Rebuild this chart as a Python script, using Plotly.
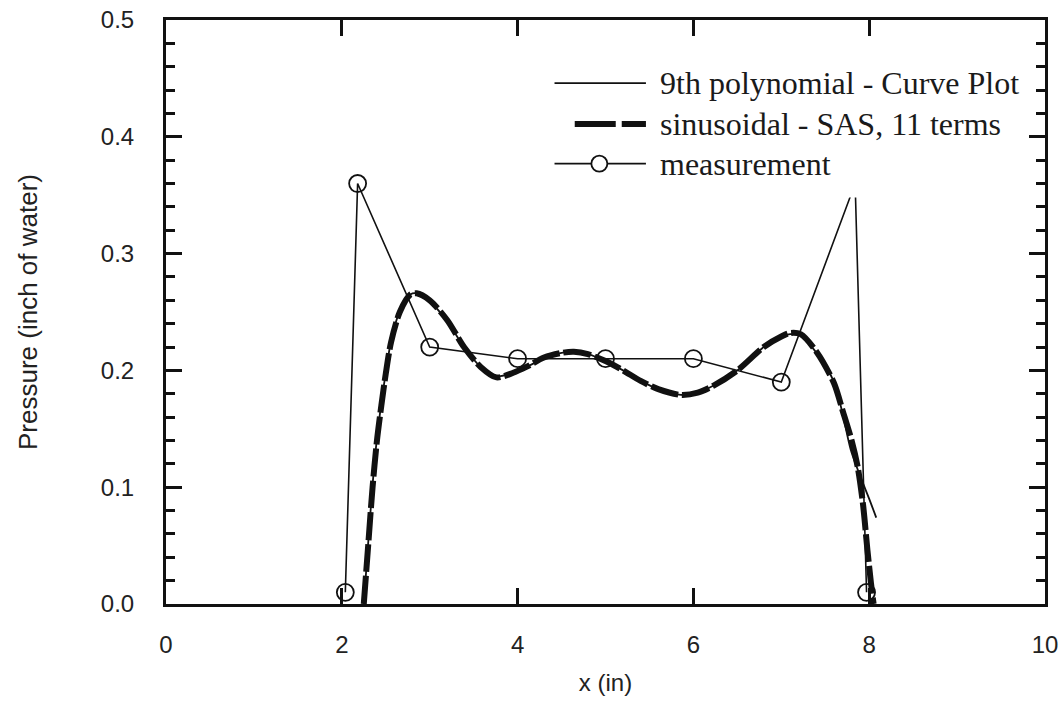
import plotly.graph_objects as go

# Measured pressure distribution
meas_x = [2.04, 2.18, 3.0, 4.0, 5.0, 6.0, 7.0, 7.84, 7.97]
meas_y = [0.01, 0.36, 0.22, 0.21, 0.21, 0.21, 0.19, 0.36, 0.01]

# 9th order polynomial fit (Curve Plot)
poly_x = [2.25, 2.30, 2.35, 2.40, 2.45, 2.50, 2.56, 2.66, 2.78, 2.85, 3.00, 3.20,
          3.39, 3.58, 3.76, 3.95, 4.10, 4.30, 4.50, 4.64, 4.80, 5.00, 5.20, 5.40,
          5.60, 5.86, 6.05, 6.23, 6.50, 6.80, 7.00, 7.10, 7.22, 7.40, 7.60, 7.70,
          7.79, 7.90, 8.00, 8.08]
poly_y = [0.000, 0.052, 0.102, 0.142, 0.172, 0.198, 0.225, 0.251, 0.265, 0.266, 0.259, 0.242,
          0.220, 0.203, 0.195, 0.198, 0.203, 0.210, 0.215, 0.216, 0.214, 0.208, 0.200, 0.191,
          0.184, 0.179, 0.181, 0.187, 0.200, 0.220, 0.229, 0.231, 0.230, 0.215, 0.190, 0.162,
          0.132, 0.109, 0.090, 0.074]

# Sinusoidal series fit (SAS, 11 terms)
sin_x = [2.25, 2.30, 2.35, 2.40, 2.45, 2.50, 2.56, 2.66, 2.78, 2.85, 3.00, 3.20,
         3.39, 3.58, 3.76, 3.95, 4.10, 4.30, 4.50, 4.64, 4.80, 5.00, 5.20, 5.40,
         5.60, 5.86, 6.05, 6.23, 6.50, 6.80, 7.00, 7.10, 7.22, 7.40, 7.60, 7.70,
         7.80, 7.87, 7.93, 7.98, 8.02, 8.05]
sin_y = [0.000, 0.050, 0.100, 0.140, 0.170, 0.197, 0.224, 0.250, 0.265, 0.266, 0.260, 0.243,
         0.220, 0.203, 0.194, 0.198, 0.203, 0.211, 0.215, 0.216, 0.214, 0.208, 0.200, 0.191,
         0.184, 0.179, 0.181, 0.187, 0.200, 0.220, 0.229, 0.232, 0.231, 0.216, 0.189, 0.165,
         0.140, 0.117, 0.085, 0.046, 0.018, 0.000]

legend_labels = ["9th polynomial - Curve Plot", "sinusoidal - SAS, 11 terms", "measurement"]
legend_rows = [0.446, 0.411, 0.377]

INK = "#111111"
AX_FONT = dict(family="Liberation Sans, Arial, sans-serif", size=24, color="#222222")
TITLE_FONT = dict(family="Liberation Sans, Arial, sans-serif", size=26, color="#222222")
LEG_FONT = dict(family="Liberation Serif, Times New Roman, serif", size=32, color="#1a1a1a")

fig = go.Figure()

fig.add_trace(go.Scatter(
    x=sin_x, y=sin_y, mode="lines", name=legend_labels[1], showlegend=False,
    line=dict(color=INK, width=6, dash="28px,4px", shape="spline", smoothing=0.8),
))
fig.add_trace(go.Scatter(
    x=poly_x, y=poly_y, mode="lines", name=legend_labels[0], showlegend=False,
    line=dict(color=INK, width=1.8, shape="spline", smoothing=0.8),
))
fig.add_trace(go.Scatter(
    x=meas_x, y=meas_y, mode="lines+markers", name=legend_labels[2], showlegend=False,
    line=dict(color=INK, width=1.6),
    marker=dict(symbol="circle-open", size=17, color=INK, line=dict(width=1.8, color=INK)),
))

# Legend panel: opaque box with sample lines and labels
shapes = [
    dict(type="rect", xref="x", yref="y", x0=4.25, x1=9.75, y0=0.348, y1=0.478,
         fillcolor="white", line=dict(width=0), layer="above"),
    dict(type="line", xref="x", yref="y", x0=4.42, x1=5.46, y0=legend_rows[0], y1=legend_rows[0],
         line=dict(color=INK, width=1.8), layer="above"),
    dict(type="line", xref="x", yref="y", x0=4.65, x1=5.46, y0=legend_rows[1], y1=legend_rows[1],
         line=dict(color=INK, width=6, dash="41px,6px"), layer="above"),
    dict(type="line", xref="x", yref="y", x0=4.42, x1=5.46, y0=legend_rows[2], y1=legend_rows[2],
         line=dict(color=INK, width=1.6), layer="above"),
    dict(type="circle", xref="x", yref="y", xsizemode="pixel", ysizemode="pixel",
         xanchor=4.93, yanchor=legend_rows[2], x0=-8, x1=8, y0=-8, y1=8,
         fillcolor="white", line=dict(color=INK, width=1.8), layer="above"),
]
annotations = []
for lbl, yy in zip(legend_labels, legend_rows):
    annotations.append(dict(x=5.6, y=yy, xref="x", yref="y", text=lbl, showarrow=False,
                            xanchor="left", yanchor="middle", font=LEG_FONT))

fig.update_layout(
    width=1063, height=708,
    margin=dict(l=166, r=18, t=20, b=104, autoexpand=False),
    paper_bgcolor="white", plot_bgcolor="white",
    shapes=shapes, annotations=annotations,
    showlegend=False,
)

fig.update_xaxes(
    range=[0, 10], dtick=2, tick0=0, automargin=False,
    showgrid=False, zeroline=False,
    showline=True, linecolor=INK, linewidth=3, mirror="ticks",
    ticks="inside", ticklen=16, tickwidth=3, tickcolor=INK,
    tickfont=AX_FONT, ticklabelstandoff=17,
    title=dict(text="x (in)", font=AX_FONT, standoff=18),
)
fig.update_yaxes(
    range=[0, 0.5], dtick=0.1, tick0=0, tickformat=".1f", automargin=False,
    showgrid=False, zeroline=False,
    showline=True, linecolor=INK, linewidth=3, mirror="ticks",
    ticks="inside", ticklen=16, tickwidth=3, tickcolor=INK,
    minor=dict(dtick=0.02, ticks="inside", ticklen=9, tickwidth=2.5, tickcolor=INK, showgrid=False),
    tickfont=AX_FONT, ticklabelstandoff=24,
    title=dict(text="Pressure (inch of water)", font=TITLE_FONT, standoff=56),
)

fig.write_html("out.html")
